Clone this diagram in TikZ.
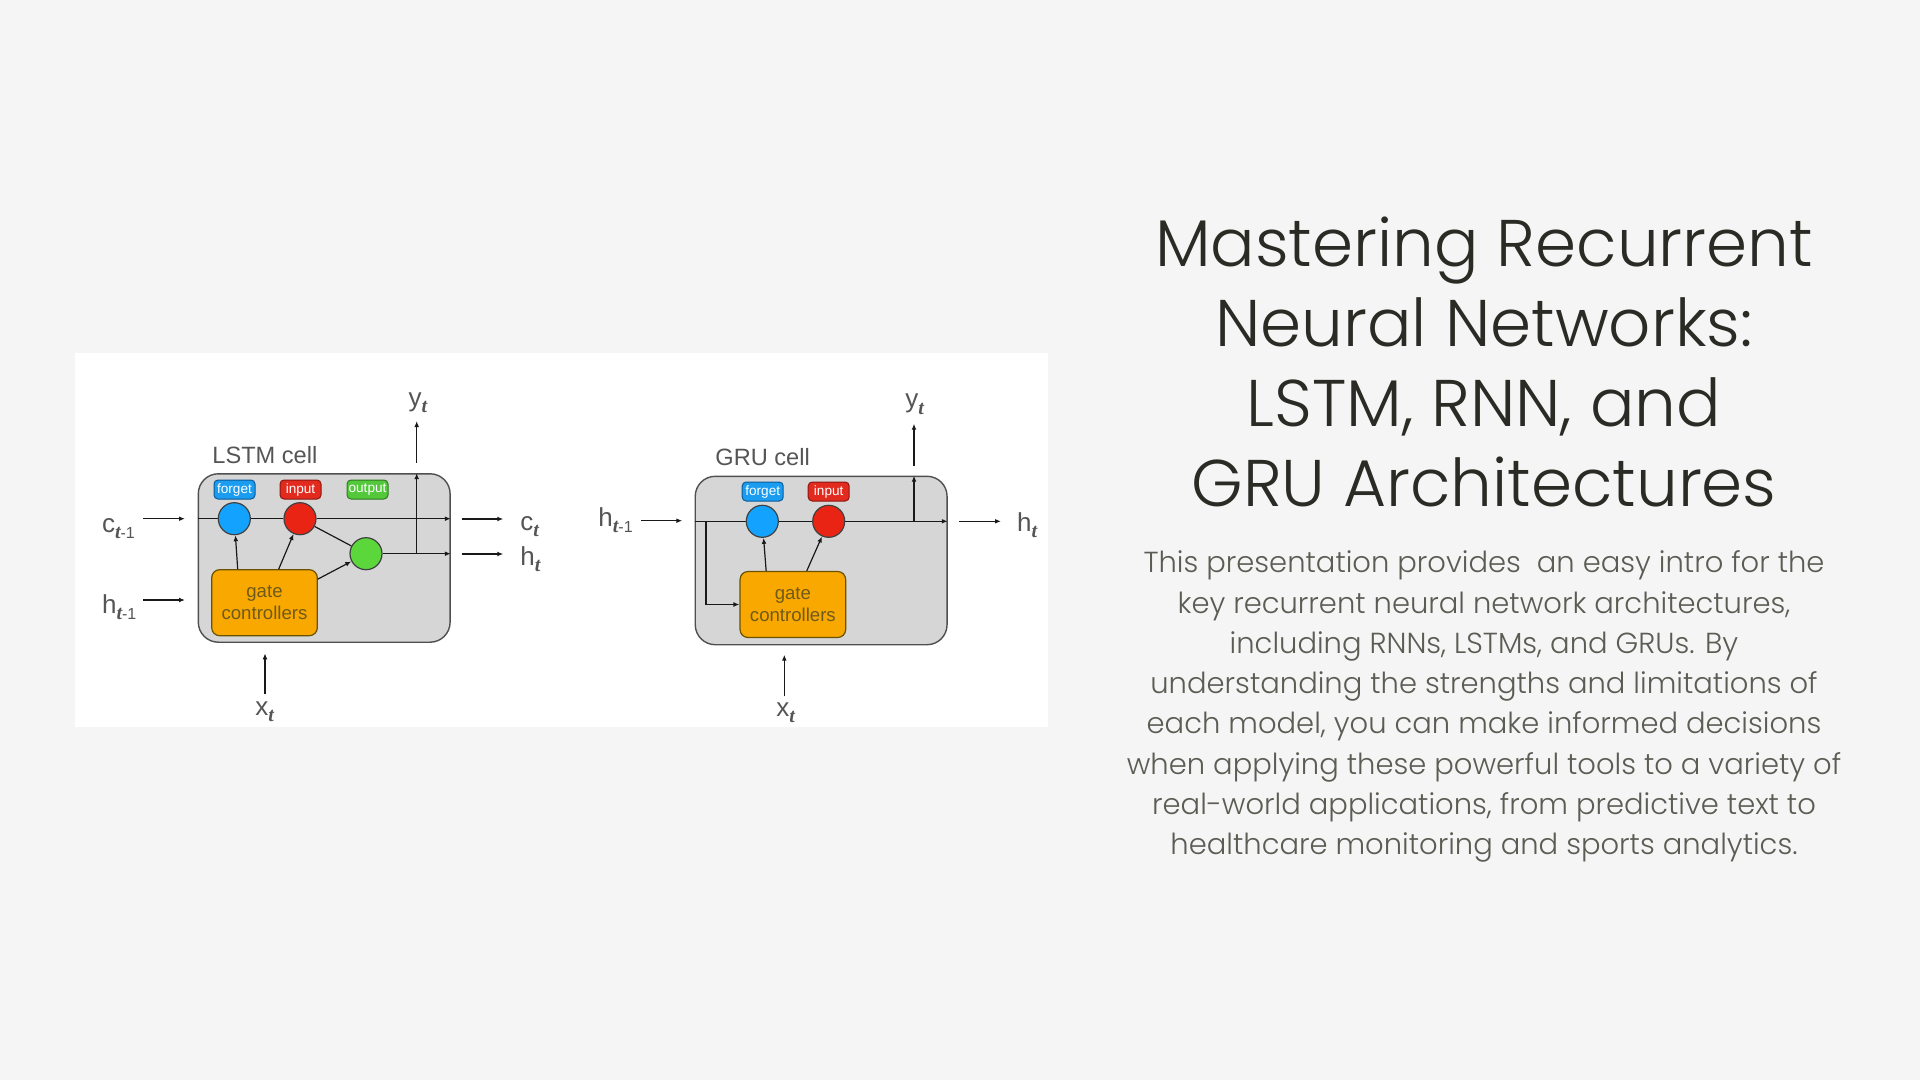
\documentclass[tikz,border=0pt]{standalone}
\usepackage{fontspec}
\setmainfont{Poppins Light}
\newfontfamily\diag{Liberation Sans}
\newfontfamily\subfont{Liberation Serif}
\usetikzlibrary{arrows.meta,calc}
\definecolor{bg}{HTML}{F5F5F5}
\definecolor{cellfill}{HTML}{D6D6D6}
\definecolor{cellborder}{HTML}{505050}
\definecolor{orange1}{HTML}{F9A800}
\definecolor{gateborder}{HTML}{6A5200}
\definecolor{gatetext}{HTML}{6E5A1C}
\definecolor{cblue}{HTML}{13A3FF}
\definecolor{cred}{HTML}{EA2415}
\definecolor{cgreen}{HTML}{5BD73B}
\definecolor{tblue}{HTML}{1A9CF0}
\definecolor{tblueb}{HTML}{0D5A9A}
\definecolor{tred}{HTML}{E22A1E}
\definecolor{tredb}{HTML}{8A1810}
\definecolor{tgreen}{HTML}{52C83A}
\definecolor{tgreenb}{HTML}{2F7A20}
\definecolor{labgray}{HTML}{555555}
\definecolor{titlecol}{HTML}{2B2B26}
\definecolor{bodycol}{HTML}{5C5C55}
\newcommand\tsb{{\subfont\bfseries\itshape\fontsize{10}{10}\selectfont t}}
\newcommand\lbl[2]{#1\raisebox{-0.45ex}{\fontsize{8}{8}\selectfont #2}}
\begin{document}
\begin{tikzpicture}[x=0.5pt,y=-0.5pt,
  cellbox/.style={draw=cellborder, fill=cellfill, line width=0.7pt, rounded corners=10pt, inner sep=0pt, minimum width=125.9pt, minimum height=84.2pt},
  gatebox/.style={draw=gateborder, fill=orange1, rounded corners=4pt, line width=0.6pt, minimum width=52.8pt, minimum height=33pt, inner sep=0pt, align=center, font=\diag\fontsize{9.3}{11}\selectfont, text=gatetext},
  gcirc/.style={circle, draw=black!75, line width=0.6pt, minimum size=16pt, inner sep=0pt},
  tag/.style={rounded corners=2pt, line width=0.5pt, minimum width=20.5pt, minimum height=9.5pt, inner sep=0pt, text=white, font=\diag\fontsize{6.8}{7}\selectfont},
  wire/.style={line width=0.6pt, draw=black!90},
  arr/.style={wire, -{Latex[length=3pt,width=2.4pt]}},
  lab/.style={font=\diag\fontsize{13}{13}\selectfont, text=labgray, inner sep=0pt, anchor=base west},
  celltitle/.style={font=\diag\fontsize{11.8}{12}\selectfont, text=labgray, inner sep=0pt, anchor=base west},
  titletxt/.style={font=\fontsize{33}{40}\selectfont, text=titlecol, inner sep=0pt, anchor=base},
  bodytxt/.style={font=\fontsize{14.5}{20}\selectfont, text=bodycol, inner sep=0pt, anchor=base}
]
\useasboundingbox (0,0) rectangle (1920,1080);
\fill[bg] (0,0) rectangle (1920,1080);
\fill[white] (75,353) rectangle (1048,727);

% ---------------- LSTM cell ----------------
\node[cellbox] (lcell) at (324.2,558) {};
\node[celltitle] (ltitle) at (212,463) {LSTM cell};
\node[tag, fill=tblue, draw=tblueb] (lft) at (234.5,489.5) {forget};
\node[tag, fill=tred, draw=tredb] (lit) at (300.5,489.5) {input};
\node[tag, fill=tgreen, draw=tgreenb] (lot) at (367.5,489.5) {output};
\node[gcirc, fill=cblue] (lf) at (234.3,518.7) {};
\node[gcirc, fill=cred] (li) at (300,518.7) {};
\node[gcirc, fill=cgreen] (lo) at (366,553.7) {};
\node[gatebox] (lg) at (264.5,602.7) {gate\\controllers};

\draw[wire] (lcell.west |- lf) -- (lf);
\draw[wire] (lf) -- (li);
\draw[arr] (li) -- (lcell.east |- li);
\draw[wire] (li) -- (lo);
\draw[arr] (lo) -- (lcell.east |- lo);
\coordinate (lyb) at (416.7,553.7);
\draw[arr] (lyb) -- (lyb |- lcell.north);
\draw[arr] ($(lg.north west)+(26.6,0)$) -- (lf);
\draw[arr] ($(lg.north west)+(67.6,0)$) -- (li);
\draw[arr] ($(lg.north east)+(0,10)$) -- (lo);

\coordinate (lc0) at (143.3,518.7); \coordinate (lc1) at (185,518.7);
\draw[arr] (lc0) -- (lc1);
\node[lab] (lcprev) at (101.7,532) {\lbl{c}{\tsb-1}};
\coordinate (lh0) at (143.3,600); \coordinate (lh1) at (185,600);
\draw[arr] (lh0) -- (lh1);
\node[lab] (lhprev) at (101.7,613) {\lbl{h}{\tsb-1}};
\coordinate (lco0) at (461.7,519); \coordinate (lco1) at (503.3,519);
\draw[arr] (lco0) -- (lco1);
\node[lab] (lcout) at (520,530) {\lbl{c}{\tsb}};
\coordinate (lho0) at (461.7,554); \coordinate (lho1) at (503.3,554);
\draw[arr] (lho0) -- (lho1);
\node[lab] (lhout) at (520,565) {\lbl{h}{\tsb}};
\coordinate (ly0) at (416.7,463); \coordinate (ly1) at (416.7,421);
\draw[arr] (ly0) -- (ly1);
\node[lab] (lyout) at (408.3,406) {\lbl{y}{\tsb}};
\coordinate (lx0) at (265,694); \coordinate (lx1) at (265,653.3);
\draw[arr] (lx0) -- (lx1);
\node[lab] (lxin) at (255,715) {\lbl{x}{\tsb}};

% ---------------- GRU cell ----------------
\node[cellbox] (gcell) at (821.15,560.5) {};
\node[celltitle] (gtitle) at (715,465.7) {GRU cell};
\node[tag, fill=tblue, draw=tblueb] (gft) at (762.7,491.5) {forget};
\node[tag, fill=tred, draw=tredb] (git) at (828.7,491.5) {input};
\node[gcirc, fill=cblue] (gf) at (762.3,521.3) {};
\node[gcirc, fill=cred] (gi) at (828.7,521.3) {};
\node[gatebox] (gg) at (792.85,604.5) {gate\\controllers};

\draw[wire] (gcell.west |- gf) -- (gf);
\draw[wire] (gf) -- (gi);
\draw[arr] (gi) -- (gcell.east |- gi);
\coordinate (gyb) at (914,521.3);
\draw[arr] (gyb) -- (gyb |- gcell.north);
\coordinate (gbr) at (706,521.3);
\draw[arr] (gbr) -- (gbr |- gg.west) -- (gg.west);
\draw[arr] ($(gg.north west)+(26.7,0)$) -- (gf);
\draw[arr] ($(gg.north west)+(67.3,0)$) -- (gi);

\coordinate (gh0) at (641,520.7); \coordinate (gh1) at (682.3,520.7);
\draw[arr] (gh0) -- (gh1);
\node[lab] (ghprev) at (598,526) {\lbl{h}{\tsb-1}};
\coordinate (gho0) at (959,521.3); \coordinate (gho1) at (1001,521.3);
\draw[arr] (gho0) -- (gho1);
\node[lab] (ghout) at (1016.7,531) {\lbl{h}{\tsb}};
\coordinate (gy0) at (914,465.7); \coordinate (gy1) at (914,423.7);
\draw[arr] (gy0) -- (gy1);
\node[lab] (gyout) at (905,408) {\lbl{y}{\tsb}};
\coordinate (gx0) at (784.3,696.3); \coordinate (gx1) at (784.3,654.7);
\draw[arr] (gx0) -- (gx1);
\node[lab] (gxin) at (776,716) {\lbl{x}{\tsb}};

% ---------------- Text ----------------
\foreach \txt [count=\i] in {Mastering Recurrent, Neural Networks:, {LSTM, RNN, and}, GRU Architectures}
  \node[titletxt] (title\i) at (1484,{266.7+80*(\i-1)}) {\txt};
\foreach \txt [count=\i] in {This presentation provides\ \ an easy intro for the, {key recurrent neural network architectures,}, {including RNNs, LSTMs, and GRUs. By}, understanding the strengths and limitations of, {each model, you can make informed decisions}, when applying these powerful tools to a variety of, {real-world applications, from predictive text to}, healthcare monitoring and sports analytics.}
  \node[bodytxt] (body\i) at (1484,{572.7+40.3*(\i-1)}) {\txt};
\end{tikzpicture}
\end{document}
